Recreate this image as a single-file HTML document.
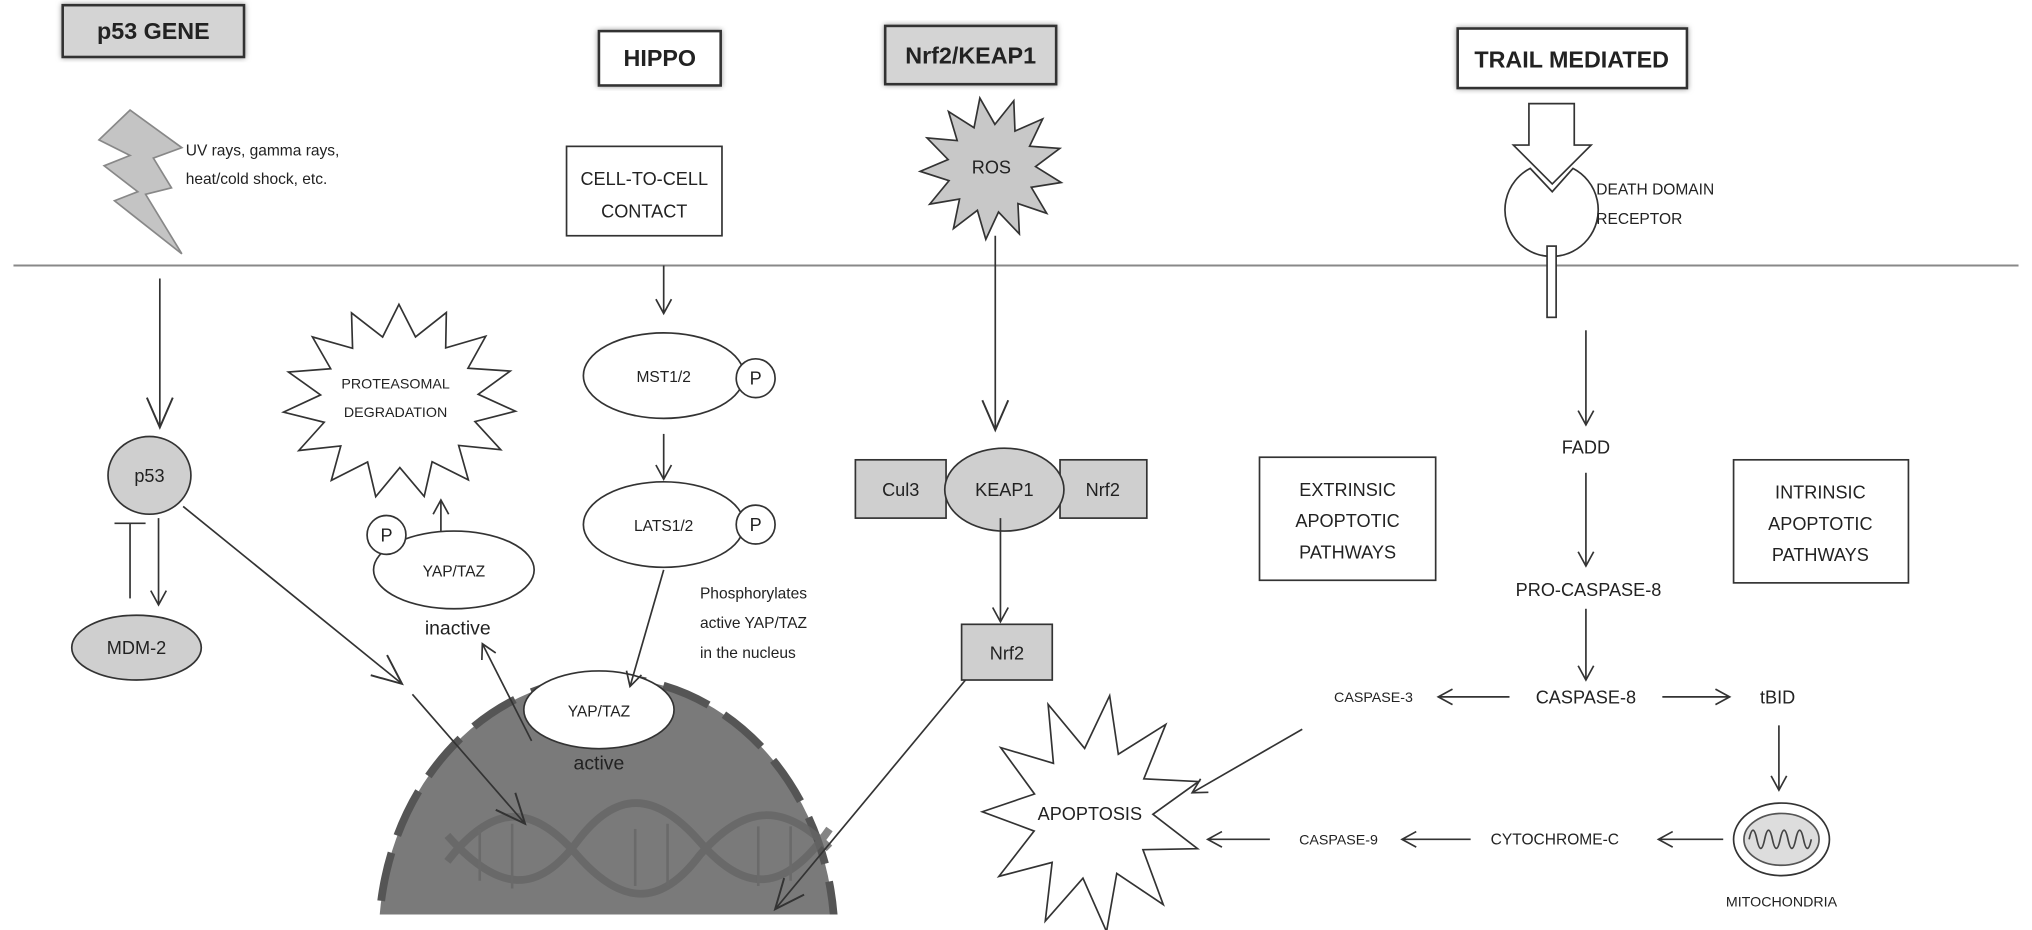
<!DOCTYPE html>
<html><head><meta charset="utf-8"><style>
html,body{margin:0;padding:0;background:#fff;overflow:hidden;width:2032px;height:930px;}
svg{display:block;}
text{font-family:"Liberation Sans Narrow","Liberation Sans",sans-serif;fill:#222;}
</style></head><body>
<svg width="2032" height="930" viewBox="0 0 1568 718" xmlns="http://www.w3.org/2000/svg">
<defs>
<marker id="a" markerWidth="14" markerHeight="14" refX="12" refY="7" orient="auto" markerUnits="userSpaceOnUse"><path d="M1,1 L12,7 L1,13" fill="none" stroke="#333" stroke-width="1.3"/></marker>
<marker id="b" markerWidth="26" markerHeight="26" refX="24" refY="13" orient="auto" markerUnits="userSpaceOnUse"><path d="M1,3 L24,13 L1,23" fill="none" stroke="#333" stroke-width="1.5"/></marker>
<filter id="sh"><feDropShadow dx="0" dy="0" stdDeviation="2" flood-color="#999"/></filter>
<clipPath id="nc"><rect x="0" y="0" width="1568" height="706"/></clipPath>
</defs>
<g stroke="#333" stroke-width="1.3" fill="none">
<rect x="48" y="4" width="140" height="40" fill="#d4d4d4" stroke-width="2" filter="url(#sh)"/>
<rect x="462" y="24" width="94" height="42" fill="#fff" stroke-width="2" filter="url(#sh)"/>
<rect x="683" y="20" width="132" height="45" fill="#d4d4d4" stroke-width="2" filter="url(#sh)"/>
<rect x="1125" y="22" width="177" height="46" fill="#fff" stroke-width="2" filter="url(#sh)"/>
<polygon points="100,85 140,114 118,122 132,145 112,150 140,196 88,155 106,148 80,128 100,120 76,108" fill="#c4c4c4" stroke="#888"/>
<rect x="437" y="113" width="120" height="69" fill="#fff"/>
<line x1="10" y1="205" x2="1558" y2="205" stroke="#888" stroke-width="1.5"/>
<path d="M1180,80 L1215,80 L1215,112 L1228,112 L1198,142 L1168,112 L1180,112 Z" fill="#fff"/>
<path d="M1181,130 L1198,148 L1214,130 A36,36 0 1 1 1181,130 Z" fill="#fff"/>
<rect x="1194" y="190" width="7" height="55" fill="#fff"/>
<line x1="123" y1="215" x2="123" y2="330" marker-end="url(#b)"/>
<ellipse cx="115" cy="367" rx="32" ry="30" fill="#cfcfcf"/>
<ellipse cx="105" cy="500" rx="50" ry="25" fill="#cfcfcf"/>
<line x1="100" y1="404" x2="100" y2="462"/><line x1="88" y1="404" x2="112" y2="404"/>
<line x1="122" y1="400" x2="122" y2="467" marker-end="url(#a)"/>
<line x1="141" y1="391" x2="310" y2="528" marker-end="url(#b)"/>
<g clip-path="url(#nc)">
<ellipse cx="468" cy="725" rx="176" ry="202" fill="#7a7a7a" stroke="#555" stroke-width="6" stroke-dasharray="38,14"/>
</g>
<g stroke="#666" stroke-width="6" opacity="0.8">
<path d="M345,645 C385,690 415,690 445,650 C475,610 505,610 540,650 C575,690 605,690 640,640"/>
<path d="M345,665 C380,620 410,620 445,660 C480,700 510,700 540,660 C575,620 605,620 640,655"/>
</g>
<g stroke="#6a6a6a" stroke-width="2">
<line x1="370" y1="640" x2="370" y2="680"/><line x1="395" y1="636" x2="395" y2="686"/><line x1="490" y1="640" x2="490" y2="684"/><line x1="515" y1="636" x2="515" y2="684"/><line x1="585" y1="638" x2="585" y2="684"/><line x1="610" y1="638" x2="610" y2="680"/>
</g>
<line x1="318" y1="536" x2="405" y2="636" marker-end="url(#b)"/>
<ellipse cx="462" cy="548" rx="58" ry="30" fill="#fff"/>
<line x1="512" y1="205" x2="512" y2="242" marker-end="url(#a)"/>
<ellipse cx="512" cy="290" rx="62" ry="33" fill="#fff"/>
<circle cx="583" cy="292" r="15" fill="#fff"/>
<line x1="512" y1="335" x2="512" y2="370" marker-end="url(#a)"/>
<ellipse cx="512" cy="405" rx="62" ry="33" fill="#fff"/>
<circle cx="583" cy="405" r="15" fill="#fff"/>
<line x1="512" y1="440" x2="486" y2="530" marker-end="url(#a)"/>
<line x1="410" y1="572" x2="372" y2="497" marker-end="url(#a)"/>
<ellipse cx="350" cy="440" rx="62" ry="30" fill="#fff"/>
<circle cx="298" cy="413" r="15" fill="#fff"/>
<line x1="340" y1="410" x2="340" y2="386" marker-end="url(#a)"/>
<polygon id="ps" fill="#fff"/>
<polygon id="ros" fill="#c8c8c8"/>
<line x1="768" y1="182" x2="768" y2="332" marker-end="url(#b)"/>
<rect x="660" y="355" width="70" height="45" fill="#cfcfcf"/>
<rect x="818" y="355" width="67" height="45" fill="#cfcfcf"/>
<ellipse cx="775" cy="378" rx="46" ry="32" fill="#cfcfcf"/>
<line x1="772" y1="400" x2="772" y2="480" marker-end="url(#a)"/>
<rect x="742" y="482" width="70" height="43" fill="#cfcfcf"/>
<line x1="745" y1="525" x2="598" y2="702" marker-end="url(#b)"/>
<line x1="1224" y1="255" x2="1224" y2="328" marker-end="url(#a)"/>
<line x1="1224" y1="365" x2="1224" y2="437" marker-end="url(#a)"/>
<line x1="1224" y1="470" x2="1224" y2="525" marker-end="url(#a)"/>
<rect x="972" y="353" width="136" height="95" fill="#fff"/>
<rect x="1338" y="355" width="135" height="95" fill="#fff"/>
<line x1="1165" y1="538" x2="1110" y2="538" marker-end="url(#a)"/>
<line x1="1283" y1="538" x2="1335" y2="538" marker-end="url(#a)"/>
<line x1="1373" y1="560" x2="1373" y2="610" marker-end="url(#a)"/>
<line x1="1005" y1="563" x2="920" y2="612" marker-end="url(#a)"/>
<line x1="1330" y1="648" x2="1280" y2="648" marker-end="url(#a)"/>
<line x1="1135" y1="648" x2="1082" y2="648" marker-end="url(#a)"/>
<line x1="980" y1="648" x2="932" y2="648" marker-end="url(#a)"/>
<polygon id="apo" fill="#fff"/>
<ellipse cx="1375" cy="648" rx="37" ry="28" fill="#fff"/>
<ellipse cx="1375" cy="648" rx="29" ry="20" fill="#ddd" stroke="#555"/>
<path d="M1350,648 q3,-14 6,0 q3,14 6,0 q3,-14 6,0 q3,14 6,0 q3,-14 6,0 q3,14 6,0 q3,-14 6,0 q3,14 6,0" stroke="#444"/>
</g>
<g font-size="18" font-weight="bold" text-anchor="middle">
<text x="118" y="30">p53 GENE</text><text x="509" y="51">HIPPO</text><text x="749" y="49">Nrf2/KEAP1</text><text x="1213" y="52">TRAIL MEDIATED</text>
</g>
<g font-size="12">
<text x="143" y="120">UV rays, gamma rays,</text><text x="143" y="142">heat/cold shock, etc.</text>
<text x="1232" y="150">DEATH DOMAIN</text><text x="1232" y="173">RECEPTOR</text>
<text x="540" y="462">Phosphorylates</text><text x="540" y="485">active YAP/TAZ</text><text x="540" y="508">in the nucleus</text>
</g>
<g font-size="14" text-anchor="middle">
<text x="497" y="143">CELL-TO-CELL</text><text x="497" y="168">CONTACT</text>
<text x="765" y="134">ROS</text>
<text x="115" y="372">p53</text><text x="105" y="505">MDM-2</text>
<text x="512" y="295" font-size="12">MST1/2</text><text x="583" y="297">P</text>
<text x="512" y="410" font-size="12">LATS1/2</text><text x="583" y="410">P</text>
<text x="350" y="445" font-size="12">YAP/TAZ</text><text x="298" y="418">P</text>
<text x="353" y="490" font-size="15">inactive</text>
<text x="462" y="553" font-size="12">YAP/TAZ</text><text x="462" y="594" font-size="15">active</text>
<text x="305" y="300" font-size="11">PROTEASOMAL</text><text x="305" y="322" font-size="11">DEGRADATION</text>
<text x="695" y="383">Cul3</text><text x="775" y="383">KEAP1</text><text x="851" y="383">Nrf2</text><text x="777" y="509">Nrf2</text>
<text x="1224" y="350">FADD</text><text x="1226" y="460">PRO-CASPASE-8</text><text x="1224" y="543">CASPASE-8</text>
<text x="1060" y="542" font-size="11">CASPASE-3</text><text x="1372" y="543">tBID</text>
<text x="1040" y="383">EXTRINSIC</text><text x="1040" y="407">APOPTOTIC</text><text x="1040" y="431">PATHWAYS</text>
<text x="1405" y="385">INTRINSIC</text><text x="1405" y="409">APOPTOTIC</text><text x="1405" y="433">PATHWAYS</text>
<text x="1200" y="652" font-size="12">CYTOCHROME-C</text><text x="1033" y="652" font-size="11">CASPASE-9</text>
<text x="1375" y="700" font-size="11">MITOCHONDRIA</text>
<text x="841" y="633">APOPTOSIS</text>
</g>
<script>
function star(id,cx,cy,rx,ry,ir,n,ph){var p=[];for(var i=0;i<2*n;i++){var a=Math.PI*i/n+(ph||0);var f=i%2?ir:1;p.push((cx+Math.cos(a)*rx*f).toFixed(1)+","+(cy+Math.sin(a)*ry*f).toFixed(1));}document.getElementById(id).setAttribute("points",p.join(" "));}
star("ps",308,310,90,75,0.68,15,0.1);
star("ros",765,130,55,55,0.62,13,0.2);
star("apo",843,628,85,92,0.55,11,0.3);
</script>
</svg>
</body></html>
